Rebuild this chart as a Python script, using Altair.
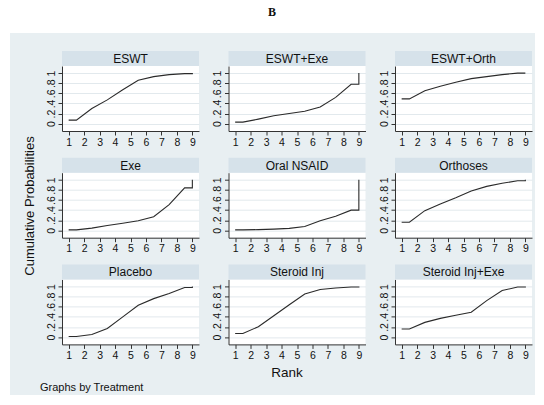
import altair as alt
import pandas as pd

# ---- data ----
treatments = ["ESWT", "ESWT+Exe", "ESWT+Orth",
              "Exe", "Oral NSAID", "Orthoses",
              "Placebo", "Steroid Inj", "Steroid Inj+Exe"]
ranks = [1, 2, 3, 4, 5, 6, 7, 8, 9]
cum_eswt = [0.07, 0.30, 0.47, 0.67, 0.86, 0.93, 0.97, 0.99, 1.00]
cum_eswt_exe = [0.03, 0.09, 0.155, 0.20, 0.245, 0.33, 0.52, 0.78, 1.00]
cum_eswt_orth = [0.49, 0.65, 0.74, 0.82, 0.89, 0.93, 0.97, 1.00, 1.00]
cum_exe = [0.01, 0.045, 0.095, 0.14, 0.19, 0.27, 0.51, 0.84, 1.00]
cum_nsaid = [0.01, 0.015, 0.025, 0.04, 0.075, 0.19, 0.28, 0.40, 1.00]
cum_orthoses = [0.16, 0.39, 0.52, 0.645, 0.78, 0.87, 0.93, 0.98, 1.00]
cum_placebo = [0.01, 0.05, 0.17, 0.40, 0.63, 0.76, 0.86, 0.98, 1.00]
cum_steroid = [0.07, 0.205, 0.42, 0.64, 0.85, 0.94, 0.97, 0.99, 1.00]
cum_steroid_exe = [0.16, 0.29, 0.37, 0.43, 0.49, 0.72, 0.92, 0.99, 1.00]
cumulative = [cum_eswt, cum_eswt_exe, cum_eswt_orth, cum_exe, cum_nsaid,
              cum_orthoses, cum_placebo, cum_steroid, cum_steroid_exe]
y_ticks = [0, 0.2, 0.4, 0.6, 0.8, 1.0]

FONT = "Liberation Sans"
BG = "#e8eff2"
STRIP = "#d6e2ea"
GRID = "#e2e9ed"
LINE = "#2a2a2a"

PW, PH, SH = 137, 65, 15


def step_path(c):
    # Stata cumulative-rank style: flat half steps at both ends, jump at 9
    xs = [ranks[0]] + [r + 0.5 for r in ranks[:-1]] + [ranks[-1], ranks[-1]]
    ys = [c[0]] + c[:-1] + [c[-2], c[-1]]
    return pd.DataFrame({"x": xs, "y": ys, "i": list(range(len(xs)))})


def panel(name, c):
    one = pd.DataFrame({"t": [name]})
    strip_bg = alt.Chart(one).mark_rect(color=STRIP).encode(
        x=alt.value(0), x2=alt.value(PW), y=alt.value(-SH), y2=alt.value(0))
    strip_txt = alt.Chart(one).mark_text(
        font=FONT, fontSize=12, color="#111111", baseline="middle", align="center"
    ).encode(text="t:N", x=alt.value(PW / 2), y=alt.value(-SH / 2 + 0.5))

    line = alt.Chart(step_path(c)).mark_line(
        color=LINE, strokeWidth=1.1, interpolate="linear"
    ).encode(
        x=alt.X("x:Q", scale=alt.Scale(domain=[0.57, 9.43], nice=False, zero=False),
                axis=alt.Axis(values=ranks, title=None, grid=False, format="d",
                              labelFont=FONT, labelFontSize=10.5, labelColor="#111111",
                              labelPadding=2, tickSize=4, tickColor="#333333",
                              domainColor="#333333", labelFlush=False, labelOverlap=False)),
        y=alt.Y("y:Q", scale=alt.Scale(domain=[-0.145, 1.14], nice=False, zero=False),
                axis=alt.Axis(values=y_ticks, title=None, grid=True, gridColor=GRID,
                              labelExpr="datum.value == 0 ? '0' : (datum.value >= 1 ? '1' : '.' + round(datum.value * 10))",
                              labelAngle=270, labelAlign="center", labelBaseline="bottom",
                              labelFont=FONT, labelFontSize=10.5, labelColor="#111111",
                              labelPadding=2, tickSize=4, tickColor="#333333",
                              domainColor="#333333", labelFlush=False, labelOverlap=False,
                              labelBound=False)),
        order="i:Q",
    )
    return alt.layer(strip_bg, strip_txt, line).properties(
        width=PW, height=PH, view=alt.ViewBackground(fill="white", strokeWidth=0))


cells = [panel(t, c) for t, c in zip(treatments, cumulative)]
grid = alt.concat(*cells, columns=3, spacing={"row": 106.7 - PH, "column": 29.5},
                  bounds="flush")

one = pd.DataFrame({"a": [0]})
OX = 62  # absolute x of the grid origin
white_bg = alt.Chart(one).mark_rect(color="white").encode(
    x=alt.value(-OX), x2=alt.value(544 - OX), y=alt.value(0), y2=alt.value(405))
light_bg = alt.Chart(one).mark_rect(color=BG).encode(
    x=alt.value(10 - OX), x2=alt.value(535 - OX), y=alt.value(33), y2=alt.value(395))
title_b = alt.Chart(pd.DataFrame({"t": ["B"]})).mark_text(
    font="Liberation Serif", fontSize=12, fontWeight="bold", color="#111111"
).encode(text="t:N", x=alt.value(272 - OX), y=alt.value(12))
y_title = alt.Chart(pd.DataFrame({"t": ["Cumulative Probabilities"]})).mark_text(
    font=FONT, fontSize=13, angle=270, color="#111111", baseline="middle"
).encode(text="t:N", x=alt.value(30 - OX), y=alt.value(206))
x_title = alt.Chart(pd.DataFrame({"t": ["Rank"]})).mark_text(
    font=FONT, fontSize=13.5, color="#111111", baseline="middle"
).encode(text="t:N", x=alt.value(287 - OX), y=alt.value(373))
note = alt.Chart(pd.DataFrame({"t": ["Graphs by Treatment"]})).mark_text(
    font=FONT, fontSize=11, color="#111111", align="left", baseline="middle"
).encode(text="t:N", x=alt.value(40 - OX), y=alt.value(387.5))

header = alt.layer(white_bg, light_bg, title_b, y_title, x_title, note).properties(
    width=470, height=51 + SH)

chart = alt.vconcat(header, grid, spacing=0, bounds="flush").properties(
    padding={"left": 0, "top": 0, "right": 0, "bottom": 0}
).configure(background="white").configure_view(strokeWidth=0)

chart.save("out.html", embed_options={"renderer": "svg", "actions": False})
